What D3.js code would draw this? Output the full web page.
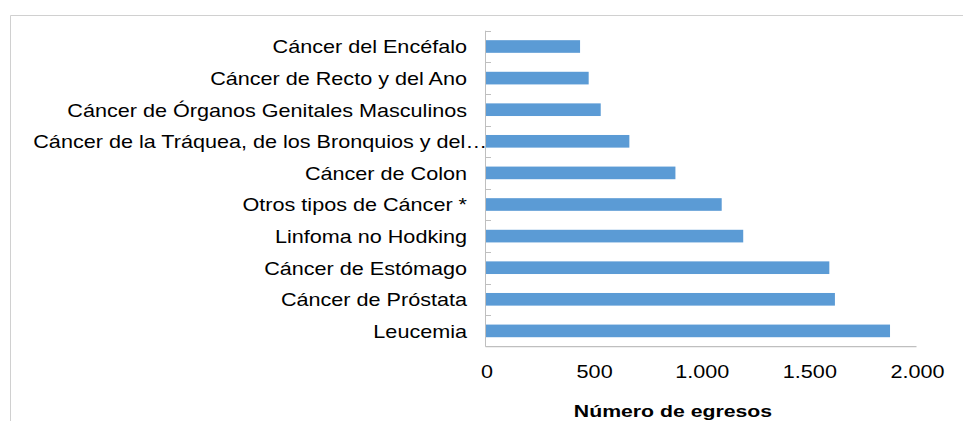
<!DOCTYPE html>
<html>
<head>
<meta charset="utf-8">
<script src="https://cdn.jsdelivr.net/npm/d3@7"></script>
<style>
  body { margin: 0; background: #fff; }
  svg { display: block; font-family: "Liberation Sans", Arial, sans-serif; }
</style>
</head>
<body>
<div id="chart"></div>
<script>
// categories from top to bottom, as shown
const categories = [
  "Cáncer del Encéfalo",
  "Cáncer de Recto y del Ano",
  "Cáncer de Órganos Genitales Masculinos",
  "Cáncer de la Tráquea, de los Bronquios y del…",
  "Cáncer de Colon",
  "Otros tipos de Cáncer *",
  "Linfoma no Hodking",
  "Cáncer de Estómago ",
  "Cáncer de Próstata",
  "Leucemia"
];
const egresos = [437, 477, 533, 666, 880, 1095, 1195, 1595, 1621, 1877];
const xTicks = [0, 500, 1000, 1500, 2000];
const xTickLabels = ["0", "500", "1.000", "1.500", "2.000"];
const xTitle = "Número de egresos";

function renderChart() {
  const width = 963;
  const height = 421;
  const plot = { left: 486, right: 916.5, top: 30.7, bottom: 346.7 };
  const stretch = 1.2; // the text in the picture is a bit wide

  const svg = d3
    .select("#chart")
    .append("svg")
    .attr("width", width)
    .attr("height", height);

  // outer frame (top and left edges visible)
  svg
    .append("path")
    .attr("d", `M10.5,${height} L10.5,15.5 L${width},15.5`)
    .attr("fill", "none")
    .attr("stroke", "#d0d0d0")
    .attr("stroke-width", 1);

  const x = d3.scaleLinear().domain([0, 2000]).range([plot.left, plot.right]);

  const y = d3
    .scaleBand()
    .domain(categories)
    .range([plot.top, plot.bottom])
    .paddingInner(0.6)
    .paddingOuter(0.3);

  const step = y.step();

  // bars
  svg
    .append("g")
    .selectAll("rect")
    .data(categories.map((c, i) => ({ name: c, value: egresos[i] })))
    .enter()
    .append("rect")
    .attr("x", x(0))
    .attr("y", (d) => y(d.name))
    .attr("width", (d) => x(d.value) - x(0))
    .attr("height", y.bandwidth())
    .attr("fill", "#5b9bd5");

  // vertical axis line with inward ticks at category boundaries
  const yAxis = svg.append("g").attr("stroke", "#bfbfbf").attr("stroke-width", 1);
  yAxis
    .append("line")
    .attr("x1", x(0) - 0.5)
    .attr("x2", x(0) - 0.5)
    .attr("y1", plot.top)
    .attr("y2", plot.bottom);
  yAxis
    .selectAll("line.tick")
    .data(d3.range(categories.length))
    .enter()
    .append("line")
    .attr("class", "tick")
    .attr("x1", x(0) - 0.5)
    .attr("x2", x(0) + 5)
    .attr("y1", (i) => Math.round(plot.top + i * step) + 0.5)
    .attr("y2", (i) => Math.round(plot.top + i * step) + 0.5);

  // horizontal base line
  svg
    .append("line")
    .attr("x1", x(0) - 0.5)
    .attr("x2", plot.right)
    .attr("y1", plot.bottom)
    .attr("y2", plot.bottom)
    .attr("stroke", "#bfbfbf")
    .attr("stroke-width", 1.3);

  // category labels
  svg
    .append("g")
    .selectAll("text")
    .data(categories)
    .enter()
    .append("text")
    .attr("transform", (d) => {
      const tx = d.endsWith("…") ? x(0) + 1 : x(0) - 19;
      const ty = y(d) + y.bandwidth() / 2 + 6.8;
      return `translate(${tx},${ty}) scale(${stretch},1)`;
    })
    .attr("text-anchor", "end")
    .style("font-size", "18px")
    .attr("fill", "#000")
    .text((d) => d);

  // x tick labels
  svg
    .append("g")
    .selectAll("text")
    .data(xTicks)
    .enter()
    .append("text")
    .attr("transform", (d) => `translate(${x(d) + 1},${plot.bottom + 31.5}) scale(${stretch},1)`)
    .attr("text-anchor", "middle")
    .style("font-size", "18px")
    .attr("fill", "#000")
    .text((d, i) => xTickLabels[i]);

  // axis title
  svg
    .append("text")
    .attr("transform", `translate(673,417) scale(1.25,1)`)
    .attr("text-anchor", "middle")
    .style("font-size", "17px")
    .style("font-weight", "bold")
    .attr("fill", "#000")
    .text(xTitle);
}

renderChart();
</script>
</body>
</html>
